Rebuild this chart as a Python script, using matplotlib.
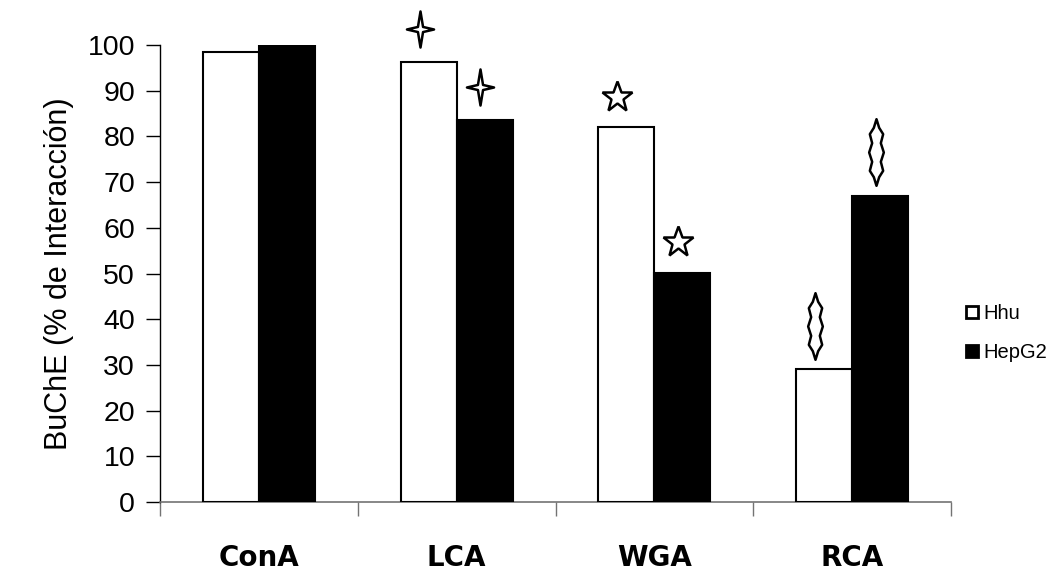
import matplotlib.pyplot as plt
import numpy as np
from matplotlib.path import Path
from matplotlib.lines import Line2D

# lectin binding data
LECTINS = ["ConA", "LCA", "WGA", "RCA"]
HHU = [98.5, 96.2, 82.0, 29.0]
HEPG2 = [100.0, 83.5, 50.2, 67.0]
SERIES = ["Hhu", "HepG2"]

# significance marks drawn above bars (None = no mark)
MARK_KIND = [None, "cross", "star", "spindle"]

BAR_W = 0.283
FONT = "Liberation Sans"


def four_point_star():
    pts = []
    for k in range(8):
        ang = np.pi / 2 + k * np.pi / 4
        r = 1.0 if k % 2 == 0 else 0.2
        sx = 0.75 if k % 2 == 0 else 1.0
        pts.append((r * np.cos(ang) * sx, r * np.sin(ang)))
    pts.append(pts[0])
    return Path(pts, closed=True)


def spindle():
    right = [(0, 1.0), (0.08, 0.74), (0.2, 0.55), (0.13, 0.28), (0.22, 0.0),
             (0.13, -0.28), (0.2, -0.55), (0.08, -0.74), (0, -1.0)]
    left = [(-x, y) for x, y in right[-2:0:-1]]
    pts = right + left + [right[0]]
    return Path(pts, closed=True)


MARKERS = {
    "cross": dict(marker=four_point_star(), ms=26, gap=7.4),
    "star": dict(marker="*", ms=23, gap=6.6),
    "spindle": dict(marker=spindle(), ms=48, gap=9.5),
}

fig = plt.figure(figsize=(10.5, 5.73), dpi=100)
ax = fig.add_axes([160 / 1050, 71 / 573, 791 / 1050, 457 / 573])

x = np.arange(len(LECTINS))
ax.bar(x - BAR_W / 2, HHU, BAR_W, color="white", edgecolor="black", linewidth=1.5, zorder=3)
ax.bar(x + BAR_W / 2, HEPG2, BAR_W, color="black", edgecolor="black", linewidth=1.5, zorder=3)

for i, kind in enumerate(MARK_KIND):
    if kind is None:
        continue
    m = MARKERS[kind]
    for off, vals in ((-0.187, HHU), (0.12, HEPG2)):
        ax.plot(x[i] + off, vals[i] + m["gap"], marker=m["marker"], ms=m["ms"],
                mfc="white", mec="black", mew=1.8, clip_on=False, zorder=4)

ax.set_xlim(-0.5, 3.5)
ax.set_ylim(0, 100)
ax.set_yticks(np.arange(0, 101, 10))
ax.tick_params(axis="y", direction="out", length=10, width=1, pad=8, labelsize=20.5)
for lab in ax.get_yticklabels():
    lab.set_family(FONT)

# boundary ticks on the x axis, category names centred in between
ax.set_xticks(np.arange(-0.5, 3.6, 1.0))
ax.set_xticklabels([])
ax.tick_params(axis="x", which="major", direction="out", length=10, width=1, color="0.45")
ax.set_xticks(x, minor=True)
ax.set_xticklabels(LECTINS, minor=True, fontsize=20, fontweight="bold", family="DejaVu Sans")
ax.tick_params(axis="x", which="minor", length=0, pad=30)

ax.spines["top"].set_visible(False)
ax.spines["right"].set_visible(False)
ax.spines["left"].set_linewidth(1)
ax.spines["bottom"].set_color("0.45")
ax.spines["bottom"].set_linewidth(1.2)

ax.set_ylabel("BuChE (% de Interacción)", fontsize=22, family=FONT, labelpad=10)

handles = [
    Line2D([], [], ls="none", marker="s", ms=9, mfc="white", mec="black", mew=2),
    Line2D([], [], ls="none", marker="s", ms=9, mfc="black", mec="black", mew=2),
]
fig.legend(handles, SERIES, loc="center left", bbox_to_anchor=(958 / 1050, 1 - 333 / 573),
           frameon=False, handlelength=0.6, handletextpad=0.25, labelspacing=0.95,
           prop={"family": FONT, "size": 14.5}, borderaxespad=0)

fig.savefig("out.png", dpi=100)
